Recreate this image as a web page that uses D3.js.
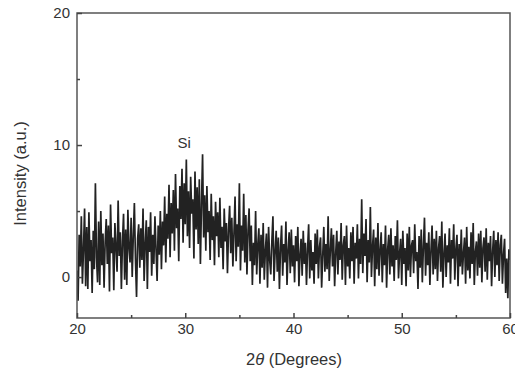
<!DOCTYPE html>
<html>
<head>
<meta charset="utf-8">
<script src="https://cdn.jsdelivr.net/npm/d3@7"></script>
<style>
  body { margin: 0; background: #fff; }
  text { font-family: "Liberation Sans", Arial, sans-serif; fill: #333; }
</style>
</head>
<body>
<div id="chart"></div>
<script>
const intensity = [
  0.5, -1.8, 3.2, 0.8, 4.6, -0.5, 2.1, 5.2, -0.7, 3.8,
  -0.9, 4.9, 1.2, 2.8, -1.2, 3.5, 0.6, 7.1, 1.5, -0.4,
  4.2, -0.6, 5.0, 0.9, 3.3, -0.8, 2.6, 4.4, 1.0, 3.9,
  -1.1, 5.5, 1.8, 3.0, -1.0, 4.1, 2.3, 0.4, 5.8, 1.6,
  3.4, -0.9, 2.7, 4.8, -0.2, 3.6, -0.6, 5.1, 2.2, 1.1,
  4.5, 0.0, 3.1, 5.6, 1.4, -1.5, 2.9, 4.0, 0.7, 3.7,
  1.3, 5.2, -0.3, 2.5, 4.3, -0.9, 3.8, 1.9, 4.9, 0.1,
  3.2, 1.0, 4.6, 2.1, -0.3, 3.9, 1.7, 5.0, 0.6, 4.2,
  2.4, 6.1, 1.1, 4.8, 2.9, 7.0, 1.5, 5.6, 3.3, 6.6,
  2.0, 7.8, 3.7, 5.2, 1.2, 6.9, 4.4, 8.2, 2.6, 7.1,
  4.0, 8.9, 3.1, 6.5, 2.2, 7.6, 4.8, 5.9, 1.4, 8.0,
  3.6, 6.8, 2.5, 7.4, 1.0, 5.5, 9.3, 3.0, 6.2, 2.0,
  6.9, 3.4, 5.0, 1.3, 6.3, 2.8, 4.6, 0.9, 5.7, 3.1,
  4.9, 1.5, 6.0, 2.2, 3.8, 0.6, 5.2, 2.7, 4.1, 0.3,
  3.6, 5.4, 1.8, 4.5, 0.8, 3.3, 6.1, 1.2, 4.0, 2.3,
  7.1, 0.5, 3.9, 2.0, 6.3, 1.1, 4.7, 0.2, 3.5, 5.2,
  1.2, 3.9, -0.6, 2.6, 0.9, 5.0, 0.2, 2.4, 3.7, -0.5,
  3.2, 0.7, 4.1, -0.2, 2.0, 3.3, -0.8, 3.8, 1.3, 0.2,
  2.7, 4.6, -0.3, 1.9, 3.5, 0.4, 3.0, -0.9, 2.2, 3.9,
  0.1, 2.5, 1.1, 4.2, -0.6, 2.0, 3.4, 0.3, 3.6, 0.8,
  2.4, -0.4, 3.1, 1.2, 3.8, -0.7, 1.7, 2.9, 0.1, 3.5,
  1.0, 2.6, -0.6, 2.1, 4.0, -0.1, 2.8, 0.5, 1.9, -0.5,
  3.3, 1.0, 3.6, -0.1, 2.3, 3.0, -0.8, 1.6, 3.8, 0.4,
  2.5, 0.6, 4.6, -0.3, 2.0, 3.7, 0.8, 3.2, -0.7, 1.8,
  3.5, 0.2, 2.7, 1.3, 4.1, -0.2, 2.4, 3.1, -0.6, 3.9,
  0.8, 2.2, -0.1, 3.4, 1.2, 3.8, -0.5, 2.6, 1.4, 4.0,
  -0.1, 2.9, 1.0, 5.9, 0.3, 3.3, 1.6, 4.4, -0.4, 2.8,
  1.1, 5.3, 0.0, 2.3, 3.6, -0.7, 3.0, 0.6, 4.1, 0.1,
  2.0, 3.4, -0.4, 2.5, 0.9, 3.9, -0.8, 2.1, 3.2, 0.2,
  3.7, 0.8, 2.4, -0.3, 3.1, 1.3, 4.3, -0.1, 1.8, 2.9,
  -0.6, 3.5, 1.0, 2.2, -0.7, 3.3, 0.5, 3.8, 0.0, 2.4,
  2.8, 0.3, 4.0, 1.2, 1.9, -0.9, 3.1, 0.7, 3.6, -0.4,
  2.3, 4.5, 0.1, 2.6, 0.9, 3.4, -0.6, 2.0, 3.9, 0.2,
  2.9, 0.6, 3.5, -0.3, 2.2, 3.1, 0.4, 4.2, -0.8, 1.7,
  3.3, 0.0, 2.4, 1.1, 3.7, -0.5, 2.8, 1.4, 4.0, -0.2,
  2.1, 3.2, -0.7, 2.5, 0.8, 3.6, 0.2, 1.8, 3.0, -0.5,
  3.8, 0.5, 2.3, -0.1, 3.4, 1.0, 4.1, -0.6, 1.9, 2.7,
  0.1, 3.3, 0.7, 3.5, -0.4, 2.2, 3.0, 0.4, 3.7, -0.2,
  2.6, 1.2, 3.1, -0.7, 2.0, 3.5, 0.0, 2.8, 0.9, 3.4,
  -0.3, 2.4, 3.2, -0.5, 1.7, 2.9, -1.2, 1.4, -1.6, 2.1,
  1.3
];
const xStart = 20;
const xStep = 0.1;

const xTicks = [20, 30, 40, 50, 60];
const xMinorTicks = [25, 35, 45, 55];
const yTicks = [0, 10, 20];
const yMinorTicks = [5, 15];

const peakLabel = { text: 'Si', x: 30, y: 9.8 };

const width = 515;
const height = 370;
const margin = { top: 13, right: 5, bottom: 52, left: 77 };

const svg = d3.select('#chart')
  .append('svg')
  .attr('width', width)
  .attr('height', height);

const x = d3.scaleLinear()
  .domain([20, 60])
  .range([margin.left, width - margin.right]);

const y = d3.scaleLinear()
  .domain([-3.1, 20])
  .range([height - margin.bottom, margin.top]);

// data line (clipped to the plot box)
svg.append('clipPath')
  .attr('id', 'plotclip')
  .append('rect')
  .attr('x', margin.left)
  .attr('y', margin.top)
  .attr('width', width - margin.left - margin.right)
  .attr('height', height - margin.top - margin.bottom);

const line = d3.line()
  .x((d, i) => x(xStart + i * xStep))
  .y((d) => y(d));

svg.append('path')
  .datum(intensity)
  .attr('clip-path', 'url(#plotclip)')
  .attr('fill', 'none')
  .attr('stroke', '#222')
  .attr('stroke-width', 1.7)
  .attr('stroke-linejoin', 'miter')
  .attr('d', line);

// frame
svg.append('rect')
  .attr('x', margin.left)
  .attr('y', margin.top)
  .attr('width', width - margin.left - margin.right)
  .attr('height', height - margin.top - margin.bottom)
  .attr('fill', 'none')
  .attr('stroke', '#555')
  .attr('stroke-width', 1.5);

// bottom axis, ticks pointing inward
const xAxis = svg.append('g')
  .attr('transform', `translate(0,${height - margin.bottom})`)
  .call(d3.axisBottom(x).tickValues(xTicks).tickSize(-5).tickPadding(5).tickFormat(d3.format('d')));
xAxis.select('.domain').remove();
xAxis.selectAll('.tick line').attr('stroke', '#444').attr('stroke-width', 1.5);
xAxis.selectAll('.tick text').attr('font-size', 15).attr('fill', '#333').attr('font-family', '"Liberation Sans", Arial, sans-serif');

const xMinor = svg.append('g')
  .attr('transform', `translate(0,${height - margin.bottom})`)
  .call(d3.axisBottom(x).tickValues(xMinorTicks).tickSize(-3).tickFormat(''));
xMinor.select('.domain').remove();
xMinor.selectAll('.tick line').attr('stroke', '#444').attr('stroke-width', 1.5);

// left axis
const yAxis = svg.append('g')
  .attr('transform', `translate(${margin.left},0)`)
  .call(d3.axisLeft(y).tickValues(yTicks).tickSize(-5).tickPadding(7).tickFormat(d3.format('d')));
yAxis.select('.domain').remove();
yAxis.selectAll('.tick line').attr('stroke', '#444').attr('stroke-width', 1.5);
yAxis.selectAll('.tick text').attr('font-size', 15).attr('fill', '#333').attr('font-family', '"Liberation Sans", Arial, sans-serif');

const yMinor = svg.append('g')
  .attr('transform', `translate(${margin.left},0)`)
  .call(d3.axisLeft(y).tickValues(yMinorTicks).tickSize(-3).tickFormat(''));
yMinor.select('.domain').remove();
yMinor.selectAll('.tick line').attr('stroke', '#444').attr('stroke-width', 1.5);

// peak label
svg.append('text')
  .attr('x', x(peakLabel.x) - 1)
  .attr('y', y(peakLabel.y))
  .attr('text-anchor', 'middle')
  .attr('font-size', 15)
  .text(peakLabel.text);

// axis titles
svg.append('text')
  .attr('transform', `translate(26,${(margin.top + height - margin.bottom) / 2 + 8}) rotate(-90)`)
  .attr('text-anchor', 'middle')
  .attr('font-size', 16.5)
  .text('Intensity (a.u.)');

const xTitle = svg.append('text')
  .attr('x', 294)
  .attr('y', 365)
  .attr('text-anchor', 'middle')
  .attr('font-size', 16.5);
xTitle.append('tspan').text('2');
xTitle.append('tspan').attr('font-style', 'italic').text('θ');
xTitle.append('tspan').text(' (Degrees)');
</script>
</body>
</html>
